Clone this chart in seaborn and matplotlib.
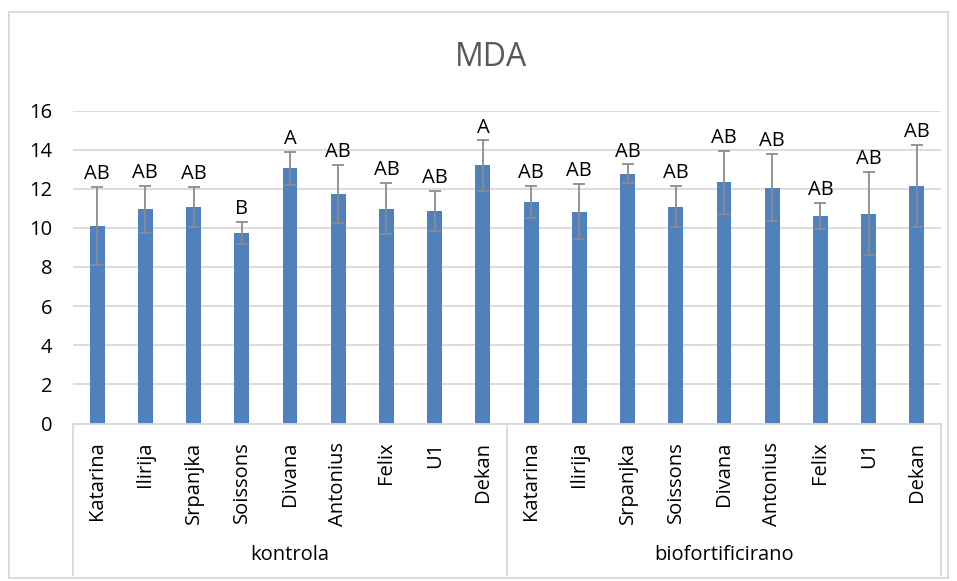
import matplotlib
matplotlib.use("Agg")
import matplotlib.pyplot as plt
import pandas as pd
import seaborn as sns
from matplotlib.patches import Rectangle
from matplotlib.transforms import blended_transform_factory, offset_copy


# ---------------------------------------------------------
# data
# ---------------------------------------------------------
cultivars = ["Katarina", "Ilirija", "Srpanjka", "Soissons", "Divana",
             "Antonius", "Felix", "U1", "Dekan"]
groups = ["kontrola", "biofortificirano"]

mda_kontrola = [10.08, 10.94, 11.09, 9.74, 13.05, 11.74, 10.99, 10.88, 13.19]
mda_bio = [11.33, 10.83, 12.76, 11.09, 12.32, 12.06, 10.59, 10.73, 12.14]

err_kontrola = [2.00, 1.19, 1.02, 0.57, 0.84, 1.48, 1.31, 1.02, 1.28]
err_bio = [0.80, 1.42, 0.48, 1.04, 1.63, 1.73, 0.67, 2.12, 2.10]

letters_kontrola = ["AB", "AB", "AB", "B", "A", "AB", "AB", "AB", "A"]
letters_bio = ["AB", "AB", "AB", "AB", "AB", "AB", "AB", "AB", "AB"]


df = pd.DataFrame({
    "group": [groups[0]] * len(cultivars) + [groups[1]] * len(cultivars),
    "cultivar": cultivars + cultivars,
    "mda": mda_kontrola + mda_bio,
    "err": err_kontrola + err_bio,
    "letter": letters_kontrola + letters_bio,
})
df["key"] = df["group"] + "_" + df["cultivar"]

sns.set_theme(style="white")
plt.rcParams["font.family"] = ["Open Sans", "DejaVu Sans"]

W, H = 957, 581
fig = plt.figure(figsize=(W / 100, H / 100), dpi=100)
ax = fig.add_axes([73 / W, (H - 423.5) / H, 868 / W, (423.5 - 110.5) / H])

sns.barplot(data=df, x="key", y="mda", color="#4F81BD", width=0.31,
            errorbar=None, saturation=1, linewidth=0, ax=ax, zorder=2)

positions = list(range(len(df)))
_, caps, bars = ax.errorbar(positions, df["mda"], yerr=df["err"], fmt="none",
                            ecolor="#8c8c8c", elinewidth=1.3, capsize=4,
                            capthick=1.3, zorder=3)
for cap in caps:
    cap.set_color("#595959")

# significance letters
letter_tr = offset_copy(ax.transData, fig=fig, x=0, y=2, units="points")
for pos, (_, row) in zip(positions, df.iterrows()):
    ax.text(pos, row["mda"] + row["err"], row["letter"], ha="center",
            va="bottom", fontsize=14.5, color="black", transform=letter_tr,
            zorder=4)

ax.set_ylim(0, 16)
ax.set_xlim(-0.5, len(df) - 0.5)
ax.set_yticks(range(0, 17, 2))
ax.yaxis.grid(True, color="#d9d9d9", linewidth=1.3, zorder=0)
ax.set_axisbelow(True)
for side in ["top", "right", "left"]:
    ax.spines[side].set_visible(False)
ax.spines["bottom"].set_color("#d9d9d9")
ax.spines["bottom"].set_linewidth(1.3)

ax.set_xticks(positions)
ax.set_xticklabels(df["cultivar"], rotation=90, va="top", ha="center")
ax.tick_params(axis="x", length=0, pad=13, labelsize=14.5, labelcolor="black")
ax.tick_params(axis="y", length=0, pad=15, labelsize=14.5, labelcolor="black")
ax.set_xlabel("")
ax.set_ylabel("")

# group axis: separators and group names
tr = blended_transform_factory(ax.transData, ax.transAxes)
sep_bottom = -(575 - 423.5) / (423.5 - 110.5)
n = len(cultivars)
for x in [-0.5, n - 0.5, 2 * n - 0.5]:
    ax.plot([x, x], [0, sep_bottom], transform=tr, color="#d9d9d9",
            linewidth=1.3, clip_on=False)
label_y = -(555 - 423.5) / (423.5 - 110.5)
for i, g in enumerate(groups):
    ax.text(i * n + (n - 1) / 2, label_y, g, transform=tr, ha="center",
            va="center", fontsize=14.5, color="black")

fig.text(491 / W, 1 - 58 / H, "MDA", ha="center", va="center",
         fontsize=23, color="#595959")

# chart border
fig.patches.append(Rectangle((9 / W, 3 / H), 939 / W, 566 / H,
                             transform=fig.transFigure, fill=False,
                             edgecolor="#d9d9d9", linewidth=1.3))

fig.savefig("out.png", dpi=100)
plt.close(fig)
